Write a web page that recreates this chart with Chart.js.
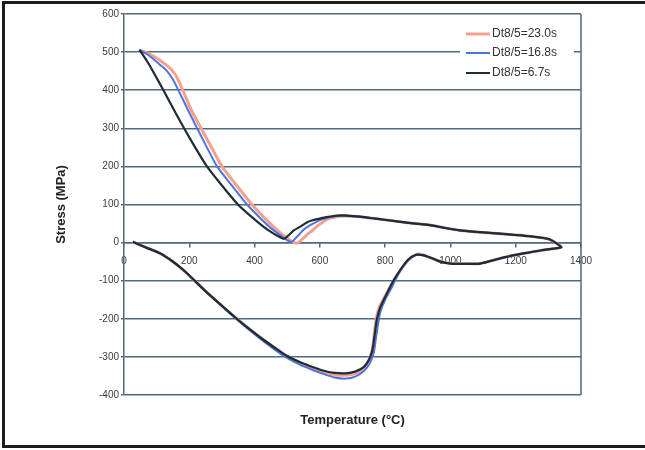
<!DOCTYPE html>
<html>
<head>
<meta charset="utf-8">
<script src="https://cdn.jsdelivr.net/npm/chart.js@4.4.1/dist/chart.umd.min.js"></script>
<style>
  html, body { margin: 0; padding: 0; background: #ffffff; overflow: hidden; width: 645px; height: 450px; }
  #clip { position: absolute; left: 0; top: 0; width: 645px; height: 450px; overflow: hidden; }
  #frame { position: absolute; left: 2px; top: 1px; width: 700px; height: 441px; border: 3px solid #1c1c1c; border-right: none; }
  #wrap { position: absolute; left: 0; top: 0; width: 645px; height: 450px; }
</style>
</head>
<body>
<div id="clip">
<div id="frame"></div>
<div id="wrap"><canvas id="c" width="645" height="450"></canvas></div>
</div>
<script>
// Thermal stress cycle: heating (compressive) and cooling (tensile) branches, °C vs MPa
const seriesLabels = ['Dt8/5=23.0s', 'Dt8/5=16.8s', 'Dt8/5=6.7s'];
const seriesColors = ['#f3a08e', '#4f73df', '#1e2c34'];

const tempRed = [27, 65, 110, 145, 182, 220, 253, 295, 335, 380, 427, 465, 498, 540, 580, 615, 645, 680, 710, 733, 748, 758, 764, 768, 774, 783, 800, 823, 846, 870, 893, 912, 940, 970, 1000, 1040, 1091, 1150, 1195, 1240, 1280, 1315, 1340,
  1325, 1305, 1285, 1240, 1200, 1142, 1080, 1029, 980, 937, 880, 825, 770, 723, 680, 650, 630, 611, 590, 575, 565, 550, 540, 529, 515, 500, 480, 460, 430, 392, 345, 300, 268, 236, 205, 180, 170, 158, 141, 120, 95, 70, 47];
const stressRed = [2, -12, -28, -47, -72, -103, -130, -162, -192, -224, -255, -278, -297, -316, -330, -340, -347, -348, -343, -330, -312, -290, -262, -230, -195, -168, -140, -105, -74, -47, -32, -31, -40, -50, -54, -55, -55, -42, -33, -26, -20, -16, -12,
  -2, 8, 12, 17, 20, 24, 28, 32, 39, 46, 51, 57, 63, 68, 70, 68, 64, 55, 42, 30, 24, 12, 4, -2, 3, 12, 25, 40, 65, 100, 150, 200, 250, 300, 350, 400, 420, 440, 458, 472, 487, 498, 506];

const tempBlue = [27, 65, 110, 145, 182, 220, 253, 295, 335, 380, 427, 465, 498, 540, 580, 615, 645, 680, 710, 735, 752, 765, 772, 778, 786, 800, 820, 846, 870, 895, 915, 940, 970, 1000, 1040, 1091, 1150, 1195, 1240, 1280, 1315, 1340,
  1325, 1305, 1285, 1240, 1200, 1142, 1080, 1029, 980, 937, 880, 825, 770, 723, 680, 652, 631, 610, 600, 575, 560, 549, 535, 524, 514, 500, 490, 470, 450, 420, 377, 330, 285, 254, 224, 195, 166, 150, 130, 110, 90, 70, 47];
const stressBlue = [2, -12, -28, -47, -72, -103, -130, -163, -194, -227, -259, -283, -302, -321, -335, -346, -354, -357, -351, -337, -318, -290, -250, -215, -180, -150, -118, -74, -47, -32, -33, -40, -50, -55, -56, -55, -42, -33, -26, -20, -16, -12,
  -2, 8, 12, 17, 20, 24, 28, 32, 39, 46, 51, 57, 63, 68, 71, 70, 67, 62, 59, 48, 40, 33, 20, 10, 2, 6, 12, 25, 38, 62, 100, 150, 200, 250, 300, 350, 401, 428, 452, 467, 482, 495, 506];

const tempBlack = [27, 65, 110, 145, 182, 220, 253, 295, 335, 380, 427, 465, 498, 540, 580, 615, 645, 680, 710, 735, 750, 760, 765, 769, 775, 785, 805, 825, 846, 870, 895, 915, 940, 970, 1000, 1040, 1091, 1150, 1195, 1240, 1280, 1315, 1340,
  1325, 1305, 1285, 1240, 1200, 1142, 1080, 1029, 980, 937, 880, 825, 770, 723, 680, 652, 631, 600, 575, 560, 540, 520, 505, 490, 470, 450, 427, 390, 349, 300, 254, 218, 184, 152, 120, 95, 75, 58, 47];
const stressBlack = [2, -12, -28, -47, -72, -103, -130, -162, -192, -224, -255, -278, -297, -314, -327, -337, -342, -343, -338, -326, -308, -285, -260, -235, -200, -170, -134, -100, -72, -45, -32, -33, -40, -50, -55, -56, -55, -42, -33, -26, -20, -16, -12,
  -2, 8, 12, 17, 20, 24, 28, 32, 39, 46, 51, 57, 63, 68, 71, 71, 68, 63, 58, 53, 42, 32, 20, 10, 18, 28, 42, 68, 100, 150, 200, 250, 300, 350, 401, 440, 470, 493, 506];

const xTicks = [0, 200, 400, 600, 800, 1000, 1200, 1400];
const yTicks = [-400, -300, -200, -100, 0, 100, 200, 300, 400, 500, 600];

function zip(xs, ys) { return xs.map((x, i) => ({ x: x, y: ys[i] })); }

const gridColor = '#4f6b78';
const fontFamily = 'Liberation Sans, Arial, sans-serif';
const tickFont = { family: fontFamily, size: 10 };
const titleFont = { family: fontFamily, size: 13, weight: 'bold' };

// Legend drawn inside the plot, top right, on a white box
const insideLegend = {
  id: 'insideLegend',
  afterDatasetsDraw(chart) {
    const ctx = chart.ctx;
    ctx.save();
    ctx.fillStyle = '#ffffff';
    ctx.fillRect(460, 22, 114, 64);
    ctx.font = '12px ' + fontFamily;
    ctx.textBaseline = 'middle';
    const rows = [34, 53, 73];
    seriesLabels.forEach((lab, i) => {
      ctx.strokeStyle = seriesColors[i];
      ctx.lineWidth = i === 0 ? 3 : 2;
      ctx.beginPath();
      ctx.moveTo(466, rows[i]);
      ctx.lineTo(490, rows[i]);
      ctx.stroke();
      ctx.fillStyle = '#333333';
      ctx.fillText(lab, 492, rows[i]);
    });
    ctx.restore();
  }
};

// Plot-area frame on the right edge
const plotFrame = {
  id: 'plotFrame',
  beforeDatasetsDraw(chart) {
    const a = chart.chartArea;
    const ctx = chart.ctx;
    ctx.save();
    ctx.strokeStyle = gridColor;
    ctx.lineWidth = 1.5;
    ctx.beginPath();
    ctx.moveTo(a.right, a.top);
    ctx.lineTo(a.right, a.bottom);
    ctx.stroke();
    ctx.restore();
  }
};

const widths = [3, 2, 2.2];
const datasets = [
  zip(tempRed, stressRed), zip(tempBlue, stressBlue), zip(tempBlack, stressBlack)
].map((pts, i) => ({
  label: seriesLabels[i],
  data: pts,
  showLine: true,
  borderColor: seriesColors[i],
  backgroundColor: seriesColors[i],
  borderWidth: widths[i],
  pointRadius: 0,
  tension: 0.2,
  fill: false,
  order: 3 - i
}));

new Chart(document.getElementById('c'), {
  type: 'scatter',
  data: { datasets: datasets },
  plugins: [plotFrame, insideLegend],
  options: {
    responsive: false,
    animation: false,
    layout: { padding: { top: 14, right: 64, left: 0, bottom: 0 } },
    plugins: { legend: { display: false }, tooltip: { enabled: false } },
    scales: {
      x: {
        type: 'linear',
        position: { y: 0 },
        min: 0, max: 1400,
        afterBuildTicks: s => { s.ticks = xTicks.map(v => ({ value: v })); },
        ticks: { font: tickFont, color: '#3a3a3a', padding: 9, maxRotation: 0, callback: v => String(v) },
        grid: { display: true, drawOnChartArea: false, drawTicks: true, tickLength: 4, color: gridColor, lineWidth: 1.5 },
        border: { display: true, color: gridColor, width: 1.5 }
      },
      xt: {
        type: 'linear',
        position: 'bottom',
        min: 0, max: 1,
        ticks: { display: false },
        grid: { display: false },
        border: { display: false },
        title: { display: true, text: 'Temperature (°C)', font: titleFont, color: '#222222', padding: { top: 0, bottom: 22 } },
        afterFit: s => { s.height = 55; }
      },
      y: {
        type: 'linear',
        position: 'left',
        min: -400, max: 600,
        afterBuildTicks: s => { s.ticks = yTicks.map(v => ({ value: v })); },
        ticks: { font: tickFont, color: '#3a3a3a', padding: 2, callback: v => String(v) },
        grid: { color: gridColor, lineWidth: 1.5, tickLength: 3 },
        border: { display: true, color: gridColor, width: 1.5 },
        title: { display: true, text: 'Stress (MPa)', font: titleFont, color: '#222222', padding: { top: 54, bottom: 0 } },
        afterFit: s => { s.width = 124; }
      }
    }
  }
});
</script>
</body>
</html>
